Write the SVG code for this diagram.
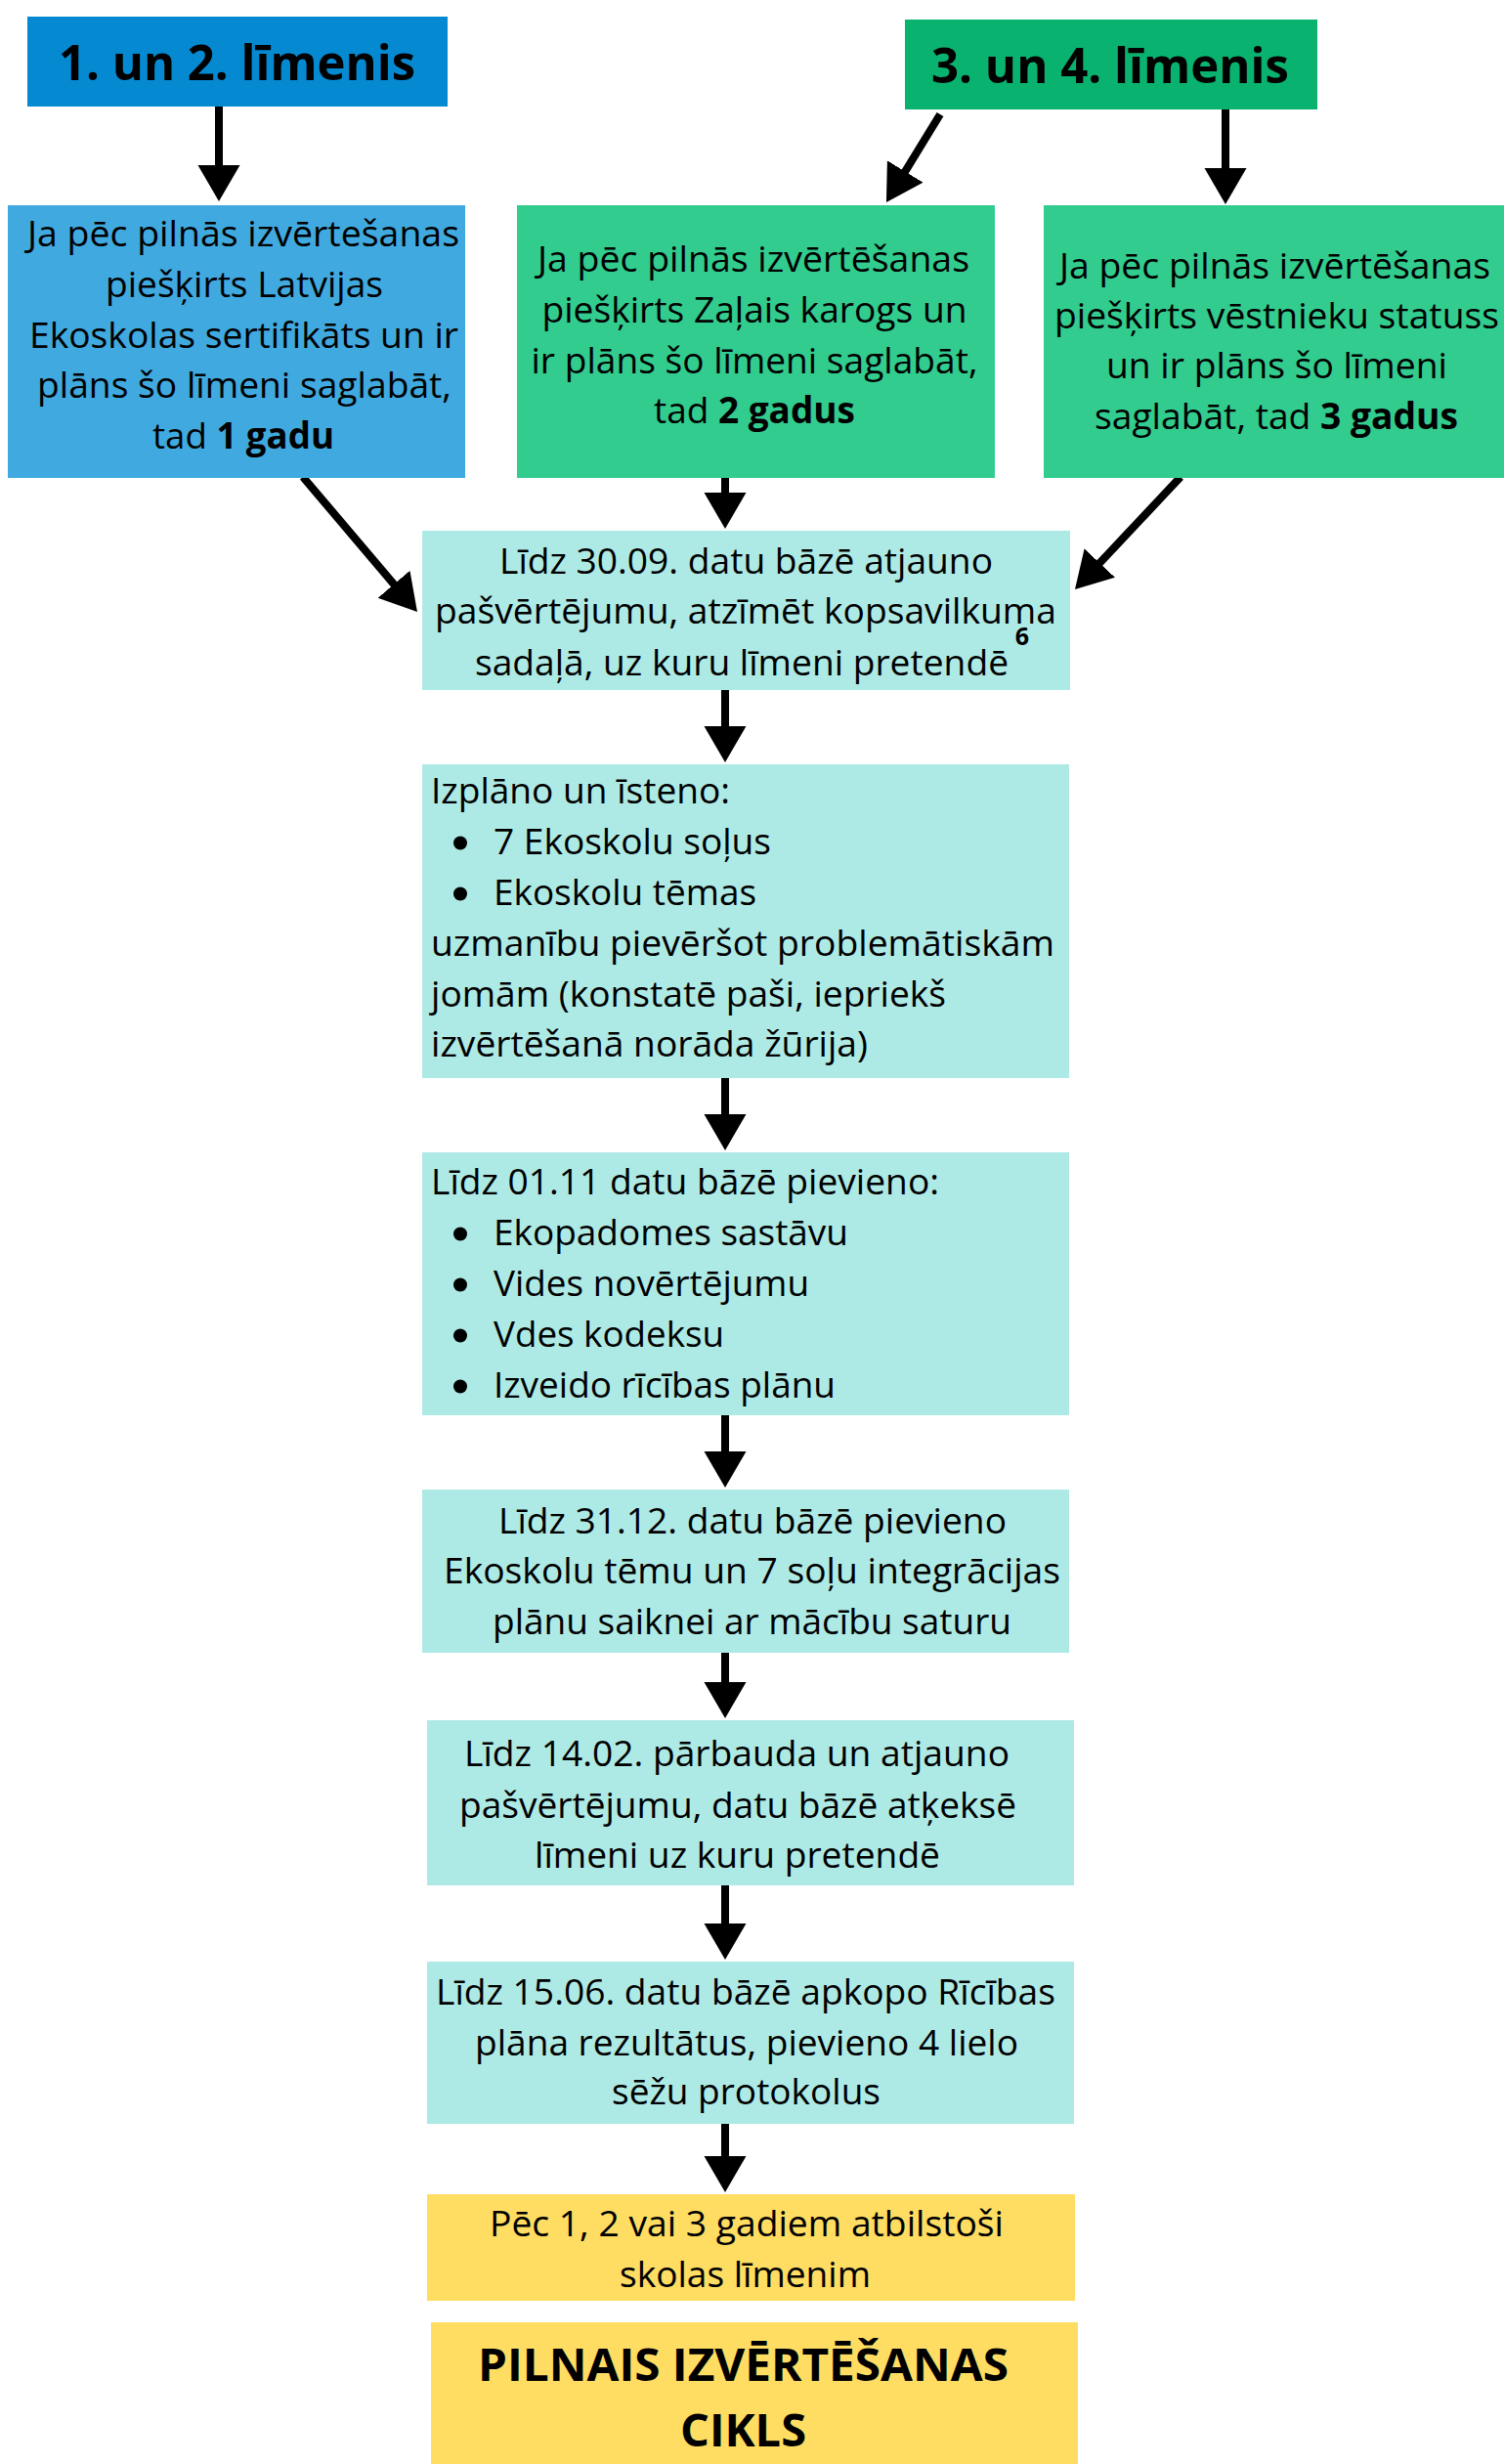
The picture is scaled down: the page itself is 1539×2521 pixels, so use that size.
<svg xmlns="http://www.w3.org/2000/svg" width="1539" height="2521" viewBox="0 0 1539 2521">
<style>
.t{font-family:"Open Sans","Noto Sans","Liberation Sans",sans-serif;font-size:37px;fill:#000}
.m{text-anchor:middle}
.b{font-weight:700}
.h{font-size:50px;font-weight:700}
.k{font-size:47px;font-weight:700}
.sup{font-size:25px;font-weight:700}
.c{stroke:#000;stroke-width:8;fill:none;marker-end:url(#ah)}
.blue{fill:#058AD2}.lblue{fill:#40AAE0}.green{fill:#09B26E}.lgreen{fill:#32CC8F}.teal{fill:#AEEAE5}.yel{fill:#FEDD62}
</style>
<defs>
<marker id="ah" markerUnits="userSpaceOnUse" markerWidth="38" markerHeight="44" refX="12" refY="21.5" orient="auto" viewBox="0 0 38 44">
<path d="M0,0 L37,21.5 L0,43 Z" fill="#000"/>
</marker>
</defs>
<rect width="1539" height="2521" fill="#fff"/>

<g id="connectors">
<line class="c" x1="224" y1="109" x2="224" y2="181"/>
<line class="c" x1="962" y1="117" x2="920" y2="185.7"/>
<line class="c" x1="1254" y1="112" x2="1254" y2="184"/>
<line class="c" x1="310" y1="488" x2="410.8" y2="606.9"/>
<line class="c" x1="742" y1="489" x2="742" y2="516"/>
<line class="c" x1="1208" y1="488" x2="1117.1" y2="584.8"/>
<line class="c" x1="742" y1="706" x2="742" y2="755"/>
<line class="c" x1="742" y1="1103" x2="742" y2="1152"/>
<line class="c" x1="742" y1="1448" x2="742" y2="1497"/>
<line class="c" x1="742" y1="1691" x2="742" y2="1733"/>
<line class="c" x1="742" y1="1929" x2="742" y2="1980"/>
<line class="c" x1="742" y1="2173" x2="742" y2="2218"/>
</g>

<g id="level12">
<rect class="blue" x="28" y="17" width="430" height="92"/>
<text class="t h m" x="242.5" y="82" textLength="365" lengthAdjust="spacingAndGlyphs">1. un 2. līmenis</text>
</g>

<g id="level34">
<rect class="green" x="926" y="20" width="422" height="92"/>
<text class="t h m" x="1136" y="85" textLength="366" lengthAdjust="spacingAndGlyphs">3. un 4. līmenis</text>
</g>

<g id="boxA">
<rect class="lblue" x="8" y="210" width="468" height="279"/>
<text class="t m" x="249" y="252" textLength="442" lengthAdjust="spacingAndGlyphs">Ja pēc pilnās izvērtešanas</text>
<text class="t m" x="250" y="304" textLength="284" lengthAdjust="spacingAndGlyphs">piešķirts Latvijas</text>
<text class="t m" x="249.5" y="356" textLength="439" lengthAdjust="spacingAndGlyphs">Ekoskolas sertifikāts un ir</text>
<text class="t m" x="250" y="407" textLength="424" lengthAdjust="spacingAndGlyphs">plāns šo līmeni saglabāt,</text>
<text class="t m" x="249" y="459" textLength="186" lengthAdjust="spacingAndGlyphs">tad <tspan class="b">1 gadu</tspan></text>
</g>

<g id="boxB">
<rect class="lgreen" x="529" y="210" width="489" height="279"/>
<text class="t m" x="771" y="278" textLength="442" lengthAdjust="spacingAndGlyphs">Ja pēc pilnās izvērtēšanas</text>
<text class="t m" x="772" y="330" textLength="435" lengthAdjust="spacingAndGlyphs">piešķirts Zaļais karogs un</text>
<text class="t m" x="772" y="382" textLength="457" lengthAdjust="spacingAndGlyphs">ir plāns šo līmeni saglabāt,</text>
<text class="t m" x="772" y="433" textLength="206" lengthAdjust="spacingAndGlyphs">tad <tspan class="b">2 gadus</tspan></text>
</g>

<g id="boxC">
<rect class="lgreen" x="1068" y="210" width="471" height="279"/>
<text class="t m" x="1304.5" y="285" textLength="441" lengthAdjust="spacingAndGlyphs">Ja pēc pilnās izvērtēšanas</text>
<text class="t m" x="1306.5" y="336" textLength="455" lengthAdjust="spacingAndGlyphs">piešķirts vēstnieku statuss</text>
<text class="t m" x="1306.5" y="387" textLength="349" lengthAdjust="spacingAndGlyphs">un ir plāns šo līmeni</text>
<text class="t m" x="1306" y="439" textLength="372" lengthAdjust="spacingAndGlyphs">saglabāt, tad <tspan class="b">3 gadus</tspan></text>
</g>

<g id="boxD">
<rect class="teal" x="432" y="543" width="663" height="163"/>
<text class="t m" x="763.5" y="587" textLength="505" lengthAdjust="spacingAndGlyphs">Līdz 30.09. datu bāzē atjauno</text>
<text class="t m" x="763" y="638" textLength="636" lengthAdjust="spacingAndGlyphs">pašvērtējumu, atzīmēt kopsavilkuma</text>
<text class="t m" x="759" y="691" textLength="546" lengthAdjust="spacingAndGlyphs">sadaļā, uz kuru līmeni pretendē</text>
<text class="t sup m" x="1046" y="660">6</text>
</g>

<g id="boxE">
<rect class="teal" x="432" y="782" width="662" height="321"/>
<text class="t" x="441" y="822" textLength="306" lengthAdjust="spacingAndGlyphs">Izplāno un īsteno:</text>
<circle cx="471" cy="862.5" r="7"/>
<text class="t" x="505" y="874" textLength="284" lengthAdjust="spacingAndGlyphs">7 Ekoskolu soļus</text>
<circle cx="471" cy="914.5" r="7"/>
<text class="t" x="505" y="926" textLength="269" lengthAdjust="spacingAndGlyphs">Ekoskolu tēmas</text>
<text class="t" x="441" y="978" textLength="638" lengthAdjust="spacingAndGlyphs">uzmanību pievēršot problemātiskām</text>
<text class="t" x="441" y="1030" textLength="527" lengthAdjust="spacingAndGlyphs">jomām (konstatē paši, iepriekš</text>
<text class="t" x="441" y="1081" textLength="447" lengthAdjust="spacingAndGlyphs">izvērtēšanā norāda žūrija)</text>
</g>

<g id="boxF">
<rect class="teal" x="432" y="1179" width="662" height="269"/>
<text class="t" x="441" y="1222" textLength="520" lengthAdjust="spacingAndGlyphs">Līdz 01.11 datu bāzē pievieno:</text>
<circle cx="471" cy="1262.5" r="7"/>
<text class="t" x="505" y="1274" textLength="363" lengthAdjust="spacingAndGlyphs">Ekopadomes sastāvu</text>
<circle cx="471" cy="1314.5" r="7"/>
<text class="t" x="505" y="1326" textLength="323" lengthAdjust="spacingAndGlyphs">Vides novērtējumu</text>
<circle cx="471" cy="1366.5" r="7"/>
<text class="t" x="505" y="1378" textLength="236" lengthAdjust="spacingAndGlyphs">Vdes kodeksu</text>
<circle cx="471" cy="1418.5" r="7"/>
<text class="t" x="505" y="1430" textLength="350" lengthAdjust="spacingAndGlyphs">Izveido rīcības plānu</text>
</g>

<g id="boxG">
<rect class="teal" x="432" y="1524" width="662" height="167"/>
<text class="t m" x="770" y="1569" textLength="520" lengthAdjust="spacingAndGlyphs">Līdz 31.12. datu bāzē pievieno</text>
<text class="t m" x="769.5" y="1620" textLength="631" lengthAdjust="spacingAndGlyphs">Ekoskolu tēmu un 7 soļu integrācijas</text>
<text class="t m" x="769.5" y="1672" textLength="531" lengthAdjust="spacingAndGlyphs">plānu saiknei ar mācību saturu</text>
</g>

<g id="boxH">
<rect class="teal" x="437" y="1760" width="662" height="169"/>
<text class="t m" x="754" y="1807" textLength="558" lengthAdjust="spacingAndGlyphs">Līdz 14.02. pārbauda un atjauno</text>
<text class="t m" x="755" y="1860" textLength="570" lengthAdjust="spacingAndGlyphs">pašvērtējumu, datu bāzē atķeksē</text>
<text class="t m" x="754.5" y="1911" textLength="415" lengthAdjust="spacingAndGlyphs">līmeni uz kuru pretendē</text>
</g>

<g id="boxI">
<rect class="teal" x="437" y="2007" width="662" height="166"/>
<text class="t m" x="763" y="2051" textLength="634" lengthAdjust="spacingAndGlyphs">Līdz 15.06. datu bāzē apkopo Rīcības</text>
<text class="t m" x="764" y="2103" textLength="556" lengthAdjust="spacingAndGlyphs">plāna rezultātus, pievieno 4 lielo</text>
<text class="t m" x="763.5" y="2153" textLength="275" lengthAdjust="spacingAndGlyphs">sēžu protokolus</text>
</g>

<g id="boxJ">
<rect class="yel" x="437" y="2245" width="663" height="109"/>
<text class="t m" x="764" y="2288" textLength="526" lengthAdjust="spacingAndGlyphs">Pēc 1, 2 vai 3 gadiem atbilstoši</text>
<text class="t m" x="762.5" y="2340" textLength="257" lengthAdjust="spacingAndGlyphs">skolas līmenim</text>
</g>

<g id="boxK">
<rect class="yel" x="441" y="2376" width="662" height="145"/>
<text class="t k m" x="760.5" y="2436" textLength="543" lengthAdjust="spacingAndGlyphs">PILNAIS IZVĒRTĒŠANAS</text>
<text class="t k m" x="760.5" y="2503" textLength="129" lengthAdjust="spacingAndGlyphs">CIKLS</text>
</g>
</svg>
